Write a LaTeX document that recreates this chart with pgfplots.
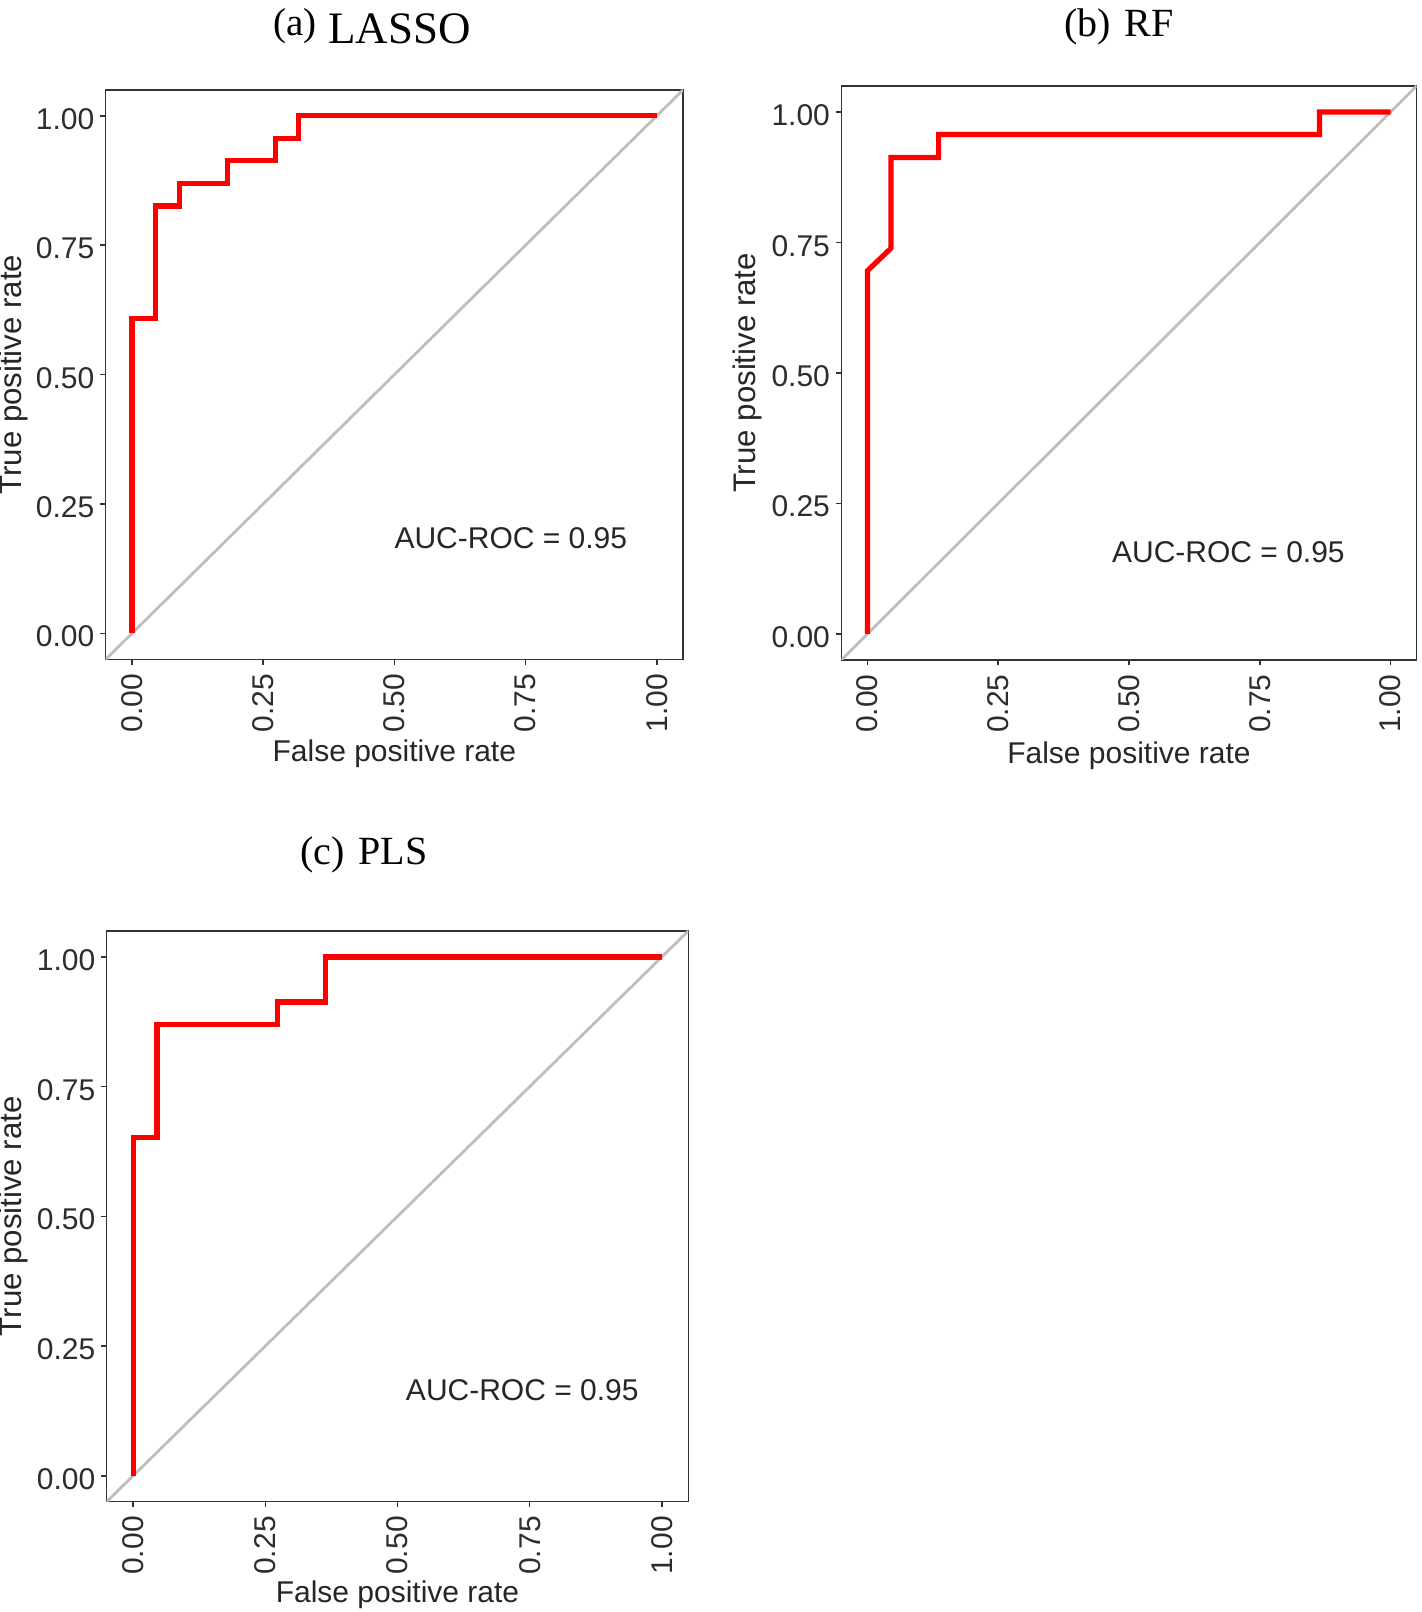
\documentclass[border=0pt]{standalone}
\usepackage{fontspec}
\setmainfont{Liberation Serif}
\setsansfont{Liberation Sans}
\usepackage{pgfplots}
\pgfplotsset{compat=1.18}
\definecolor{rocred}{RGB}{255,0,0}
\definecolor{diaggray}{RGB}{190,190,190}
\definecolor{boxgray}{RGB}{51,51,51}
\definecolor{tickgray}{RGB}{45,45,45}
\pgfplotsset{rocstyle/.style={
  scale only axis,
  anchor=south west,
  xmin=-0.05,xmax=1.05,ymin=-0.05,ymax=1.05,
  xtick={0,0.25,0.5,0.75,1}, ytick={0,0.25,0.5,0.75,1},
  xticklabels={0.00,0.25,0.50,0.75,1.00},
  yticklabels={0.00,0.25,0.50,0.75,1.00},
  xtick pos=left, ytick pos=left,
  tick align=outside, major tick length=2.75pt,
  tick style={boxgray, line width=0.75pt},
  axis line style={boxgray, line width=0.75pt},
  tick label style={font=\sffamily\fontsize{15}{18}\selectfont, text=tickgray},
  yticklabel style={anchor=east, inner sep=2.75pt, yshift=-1.6pt},
  xticklabel style={rotate=90, anchor=east, inner sep=4.35pt},
  label style={font=\sffamily\fontsize{15}{18}\selectfont, text=black!85},
  ylabel style={font=\sffamily\fontsize{15.6}{18}\selectfont},
  xlabel={False positive rate}, ylabel={True positive rate},
  every axis title/.style={font=\fontsize{20}{24}\selectfont, anchor=base, inner sep=0pt},
}}
\begin{document}
\begin{tikzpicture}
\path[use as bounding box] (0,0) rectangle (710.5pt,806pt);
% (a) LASSO
\begin{axis}[rocstyle,
  at={(52.85pt,476.35pt)}, width=288.65pt, height=284.65pt,
  title={\raisebox{4pt}{\fontsize{19.5}{22}\selectfont (a)}\hspace{1pt} {\fontsize{22.5}{26}\selectfont LASSO}},
  title style={at={(axis description cs:0.4613,1.0808)}},
  ylabel style={at={(axis description cs:-0.160,0.5)}, anchor=center},
  xlabel style={at={(axis description cs:0.5,-0.166)}, anchor=center}]
\addplot[diaggray, line width=1.4pt] coordinates {(-0.05,-0.05) (1.05,1.05)};
\addplot[rocred, line width=2.6pt, line join=miter] coordinates {(0,0) (0,0.609) (0.045,0.609) (0.045,0.826) (0.091,0.826) (0.091,0.870) (0.182,0.870) (0.182,0.913) (0.273,0.913) (0.273,0.957) (0.318,0.957) (0.318,1) (1,1)};
\node[font=\sffamily\fontsize{15}{18}\selectfont, text=black!85] at (axis cs:0.722,0.184) {AUC-ROC = 0.95};
\end{axis}
% (b) RF
\begin{axis}[rocstyle,
  at={(420.65pt,476pt)}, width=287.7pt, height=287pt,
  title={(b)\hspace{2pt} RF},
  title style={at={(axis description cs:0.4826,1.0859)}},
  ylabel style={at={(axis description cs:-0.163,0.5)}, anchor=center},
  xlabel style={at={(axis description cs:0.5,-0.167)}, anchor=center}]
\addplot[diaggray, line width=1.4pt] coordinates {(-0.05,-0.05) (1.05,1.05)};
\addplot[rocred, line width=2.6pt, line join=miter] coordinates {(0,0) (0,0.696) (0.045,0.739) (0.045,0.913) (0.136,0.913) (0.136,0.957) (0.864,0.957) (0.864,1) (1,1)};
\node[font=\sffamily\fontsize{15}{18}\selectfont, text=black!85] at (axis cs:0.690,0.157) {AUC-ROC = 0.95};
\end{axis}
% (c) PLS
\begin{axis}[rocstyle,
  at={(53.35pt,55.15pt)}, width=290.8pt, height=285.35pt,
  title={(c)\hspace{2pt} PLS},
  title style={at={(axis description cs:0.4419,1.1169)}},
  ylabel style={at={(axis description cs:-0.160,0.5)}, anchor=center},
  xlabel style={at={(axis description cs:0.5,-0.163)}, anchor=center}]
\addplot[diaggray, line width=1.4pt] coordinates {(-0.05,-0.05) (1.05,1.05)};
\addplot[rocred, line width=2.6pt, line join=miter] coordinates {(0,0) (0,0.652) (0.045,0.652) (0.045,0.870) (0.273,0.870) (0.273,0.913) (0.364,0.913) (0.364,1) (1,1)};
\node[font=\sffamily\fontsize{15}{18}\selectfont, text=black!85] at (axis cs:0.736,0.165) {AUC-ROC = 0.95};
\end{axis}
\end{tikzpicture}
\end{document}
